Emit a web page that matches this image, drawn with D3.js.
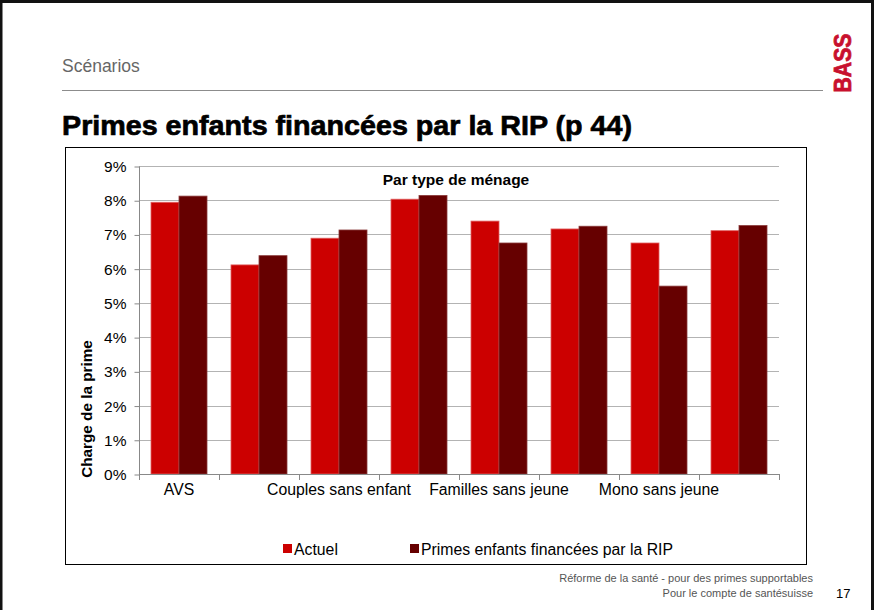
<!DOCTYPE html>
<html>
<head>
<meta charset="utf-8">
<script src="https://cdn.jsdelivr.net/npm/d3@7"></script>
<style>
  body { margin: 0; background: #fff; }
  svg { display: block; font-family: "Liberation Sans", Arial, sans-serif; }
</style>
</head>
<body>
<div id="chart"></div>
<script>
// group labels (Excel only shows every other one)
var categories = ['AVS', '', 'Couples sans enfant', '', 'Familles sans jeune', '', 'Mono sans jeune', '']
var actuel = [7.94, 6.11, 6.89, 8.03, 7.39, 7.16, 6.75, 7.11]
var rip = [8.12, 6.38, 7.13, 8.14, 6.75, 7.24, 5.49, 7.26]
var seriesNames = ['Actuel', 'Primes enfants financées par la RIP']
var seriesColors = ['#cc0000', '#660000']
var yTicks = [0, 1, 2, 3, 4, 5, 6, 7, 8, 9]

var W = 874, H = 610

var svg = d3.select('#chart').append('svg')
  .attr('width', W).attr('height', H)

// slide frame
svg.append('rect').attr('x', 1).attr('y', 1.5).attr('width', W - 2.5).attr('height', H + 5)
  .attr('fill', 'none').attr('stroke', '#111').attr('stroke-width', 3)

svg.append('text').attr('x', 62).attr('y', 72).text('Scénarios')
  .style('font-size', '17.5px').attr('fill', '#666')

svg.append('line').attr('x1', 62).attr('x2', 823).attr('y1', 90.5).attr('y2', 90.5)
  .attr('stroke', '#8c8c8c').attr('stroke-width', 1)

svg.append('text').attr('transform', 'translate(851,63) rotate(-90)')
  .attr('text-anchor', 'middle').text('BASS')
  .attr('textLength', 59).attr('lengthAdjust', 'spacingAndGlyphs')
  .style('font-size', '24px').style('font-weight', 'bold').attr('fill', '#c8102e')
  .attr('stroke', '#c8102e').attr('stroke-width', 0.8)

svg.append('text').attr('x', 62).attr('y', 135)
  .text('Primes enfants financées par la RIP (p 44)')
  .attr('textLength', 570).attr('lengthAdjust', 'spacingAndGlyphs')
  .style('font-family', '"Liberation Sans Narrow", "Liberation Sans", Arial, sans-serif')
  .style('font-size', '28px').style('font-weight', 'bold').attr('fill', '#000')
  .attr('stroke', '#000').attr('stroke-width', 0.7)

// chart box
svg.append('rect').attr('x', 65.5).attr('y', 147.5).attr('width', 741).attr('height', 417)
  .attr('fill', '#fff').attr('stroke', '#000').attr('stroke-width', 1)

var m = {left: 139, top: 166, right: 779, bottom: 474}

var x = d3.scaleBand().domain(d3.range(categories.length))
  .range([m.left, m.right]).paddingInner(0.3).paddingOuter(0.15)
var x1 = d3.scaleBand().domain([0, 1]).range([0, x.bandwidth()])
var y = d3.scaleLinear().domain([0, 9]).range([m.bottom, m.top])

// grid
svg.append('g').selectAll('line').data(yTicks.slice(1)).join('line')
  .attr('x1', m.left).attr('x2', m.right)
  .attr('y1', d => Math.round(y(d)) + 0.5).attr('y2', d => Math.round(y(d)) + 0.5)
  .attr('stroke', '#b3b3b3')

// y axis
var yAxis = svg.append('g').attr('transform', 'translate(' + (m.left + 0.5) + ',0.5)')
  .call(d3.axisLeft(y).tickValues(yTicks).tickSize(5).tickFormat(d => d + '%'))
yAxis.select('.domain').attr('stroke', '#888').attr('d', 'M0,' + y(9) + 'V' + y(0))
yAxis.selectAll('.tick line').attr('stroke', '#888')
yAxis.selectAll('.tick text').attr('x', -13)
  .style('font-size', '15.5px').style('font-family', '"Liberation Sans", Arial, sans-serif').attr('fill', '#000')

// bars
var groups = svg.append('g').selectAll('g').data(categories).join('g')
  .attr('transform', (d, i) => 'translate(' + x(i) + ',0)')

groups.selectAll('rect').data((d, i) => [actuel[i], rip[i]]).join('rect')
  .attr('x', (d, j) => x1(j))
  .attr('width', x1.bandwidth())
  .attr('y', d => y(d))
  .attr('height', d => y(0) - y(d))
  .attr('fill', (d, j) => seriesColors[j])
  .attr('stroke', (d, j) => j ? '#8a3a3a' : '#e06060')
  .attr('stroke-width', 0.8)

// x axis
var xEdge = d3.range(categories.length + 1).map(i => m.left + i * (m.right - m.left) / categories.length)
svg.append('line').attr('x1', m.left).attr('x2', m.right)
  .attr('y1', m.bottom + 0.5).attr('y2', m.bottom + 0.5).attr('stroke', '#888')
svg.append('g').selectAll('line').data(xEdge).join('line')
  .attr('x1', d => Math.round(d) + 0.5).attr('x2', d => Math.round(d) + 0.5)
  .attr('y1', m.bottom).attr('y2', m.bottom + 6).attr('stroke', '#888')

svg.append('g').selectAll('text').data(categories).join('text')
  .attr('x', (d, i) => x(i) + x.bandwidth() / 2)
  .attr('y', 495)
  .attr('text-anchor', 'middle')
  .style('font-size', '15.8px')
  .text(d => d)

svg.append('text').attr('x', 456).attr('y', 185).attr('text-anchor', 'middle')
  .text('Par type de ménage').style('font-size', '15.5px').style('font-weight', 'bold')

svg.append('text').attr('transform', 'translate(92,409) rotate(-90)')
  .attr('text-anchor', 'middle').text('Charge de la prime')
  .style('font-size', '15.3px').style('font-weight', 'bold')

// legend
var legX = [283, 410]
seriesNames.forEach(function(name, i){
  svg.append('rect').attr('x', legX[i]).attr('y', 544).attr('width', 9).attr('height', 9)
    .attr('fill', seriesColors[i])
  svg.append('text').attr('x', legX[i] + 11).attr('y', 555).text(name)
    .style('font-size', '15.8px')
})

// footer
svg.append('text').attr('x', 813).attr('y', 582).attr('text-anchor', 'end')
  .text('Réforme de la santé - pour des primes supportables')
  .style('font-size', '11px').attr('fill', '#555')
svg.append('text').attr('x', 813).attr('y', 597).attr('text-anchor', 'end')
  .text('Pour le compte de santésuisse')
  .style('font-size', '11px').attr('fill', '#555')
svg.append('text').attr('x', 836).attr('y', 598).text('17')
  .style('font-size', '13px').attr('fill', '#000')
</script>
</body>
</html>
